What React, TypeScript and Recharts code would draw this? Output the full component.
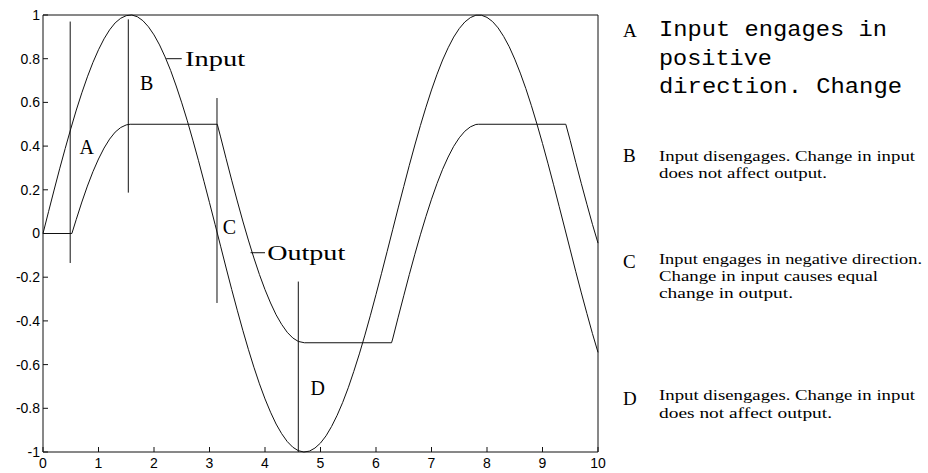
import React from 'react';
import { LineChart, Line, XAxis, YAxis, ReferenceLine, ReferenceDot } from 'recharts';

const time = [
  0, 0.1, 0.2, 0.3, 0.4, 0.5, 0.6, 0.7, 0.8, 0.9,
  1, 1.1, 1.2, 1.3, 1.4, 1.5, 1.6, 1.7, 1.8, 1.9,
  2, 2.1, 2.2, 2.3, 2.4, 2.5, 2.6, 2.7, 2.8, 2.9,
  3, 3.1, 3.2, 3.3, 3.4, 3.5, 3.6, 3.7, 3.8, 3.9,
  4, 4.1, 4.2, 4.3, 4.4, 4.5, 4.6, 4.7, 4.8, 4.9,
  5, 5.1, 5.2, 5.3, 5.4, 5.5, 5.6, 5.7, 5.8, 5.9,
  6, 6.1, 6.2, 6.3, 6.4, 6.5, 6.6, 6.7, 6.8, 6.9,
  7, 7.1, 7.2, 7.3, 7.4, 7.5, 7.6, 7.7, 7.8, 7.9,
  8, 8.1, 8.2, 8.3, 8.4, 8.5, 8.6, 8.7, 8.8, 8.9,
  9, 9.1, 9.2, 9.3, 9.4, 9.5, 9.6, 9.7, 9.8, 9.9,
  10,
];

const inputValues = [
  0, 0.1, 0.199, 0.296, 0.389, 0.479, 0.565, 0.644, 0.717, 0.783,
  0.841, 0.891, 0.932, 0.964, 0.985, 0.997, 1.0, 0.992, 0.974, 0.946,
  0.909, 0.863, 0.808, 0.746, 0.675, 0.598, 0.516, 0.427, 0.335, 0.239,
  0.141, 0.042, -0.058, -0.158, -0.256, -0.351, -0.443, -0.53, -0.612, -0.688,
  -0.757, -0.818, -0.872, -0.916, -0.952, -0.978, -0.994, -1.0, -0.996, -0.982,
  -0.959, -0.926, -0.883, -0.832, -0.773, -0.706, -0.631, -0.551, -0.465, -0.374,
  -0.279, -0.182, -0.083, 0.017, 0.117, 0.215, 0.312, 0.405, 0.494, 0.578,
  0.657, 0.729, 0.794, 0.85, 0.899, 0.938, 0.968, 0.988, 0.999, 0.999,
  0.989, 0.97, 0.941, 0.902, 0.855, 0.798, 0.734, 0.663, 0.585, 0.501,
  0.412, 0.319, 0.223, 0.124, 0.025, -0.075, -0.175, -0.272, -0.366, -0.458,
  -0.544,
];

const outputTime = [
  0, 0.52, 0.6, 0.7, 0.8, 0.9, 1.0, 1.1, 1.2, 1.3, 1.4, 1.5, 1.57,
  3.14, 3.2, 3.3, 3.4, 3.5, 3.6, 3.7, 3.8, 3.9, 4.0, 4.1, 4.2, 4.3, 4.4, 4.5, 4.6, 4.71,
  6.28, 6.3, 6.4, 6.5, 6.6, 6.7, 6.8, 6.9, 7.0, 7.1, 7.2, 7.3, 7.4, 7.5, 7.6, 7.7, 7.8, 7.85,
  9.42, 9.5, 9.6, 9.7, 9.8, 9.9, 10.0,
];

const outputValues = [
  0, 0, 0.065, 0.144, 0.217, 0.283, 0.341, 0.391, 0.432, 0.464, 0.485, 0.497, 0.5,
  0.5, 0.442, 0.342, 0.244, 0.149, 0.057, -0.03, -0.112, -0.188, -0.257, -0.318, -0.372, -0.416, -0.452, -0.478, -0.494, -0.5,
  -0.5, -0.483, -0.383, -0.285, -0.188, -0.095, -0.006, 0.078, 0.157, 0.229, 0.294, 0.35, 0.399, 0.438, 0.468, 0.488, 0.499, 0.5,
  0.5, 0.425, 0.325, 0.228, 0.134, 0.042, -0.044,
];

const xTicks = [0, 1, 2, 3, 4, 5, 6, 7, 8, 9, 10];
const yTicks = [-1, -0.8, -0.6, -0.4, -0.2, 0, 0.2, 0.4, 0.6, 0.8, 1];

// annotation markers: x, top y, bottom y
const markerX = [0.49, 1.537, 3.135, 4.6];
const markerTop = [0.97, 0.98, 0.62, -0.22];
const markerBottom = [-0.135, 0.187, -0.318, -1];

const letterLabels = ['A', 'B', 'C', 'D'];
const letterX = [0.79, 1.87, 3.36, 4.95];
const letterY = [0.396, 0.69, 0.03, -0.707];

const curveNames = ['Input', 'Output'];
const leaderStart = [{ x: 2.22, y: 0.8 }, { x: 3.74, y: -0.088 }];
const leaderEnd = [{ x: 2.5, y: 0.8 }, { x: 4.0, y: -0.088 }];
const curveNameX = [2.56, 4.04];
const curveNameWidth = [60, 78];

const noteLetters = ['A', 'B', 'C', 'D'];
const noteLines = [
  ['Input engages in', 'positive', 'direction. Change'],
  ['Input disengages. Change in input', 'does not affect output.'],
  ['Input engages in negative direction.', 'Change in input causes equal', 'change in output.'],
  ['Input disengages. Change in input', 'does not affect output.'],
];

const inputData = time.map((t, i) => ({ t, v: inputValues[i] }));
const outputData = outputTime.map((t, i) => ({ t, v: outputValues[i] }));

const INK = '#111';
const tickFont = { fontFamily: 'Liberation Sans, Arial, sans-serif', fontSize: 14, fill: '#000' };

const makeText = (txt: string, anchor: string, len?: number) => (props: any) => (
  <text
    x={props.cx}
    y={props.cy}
    textAnchor={anchor}
    dominantBaseline="central"
    fontFamily="Liberation Serif, serif"
    fontSize={20}
    fill="#000"
    {...(len ? { textLength: len, lengthAdjust: 'spacingAndGlyphs' } : {})}
  >
    {txt}
  </text>
);

// Note block layout (page pixels)
const noteBlocks = [
  { letterY: 37, lineY: [36, 65, 93], lens: [228, 113, 243], mono: true },
  { letterY: 162, lineY: [161, 178], lens: [256, 168], mono: false },
  { letterY: 268, lineY: [264, 281, 298], lens: [263, 219, 134], mono: false },
  { letterY: 405, lineY: [400, 418], lens: [256, 173], mono: false },
];

export default function App() {
  return (
    <div style={{ position: 'absolute', left: 0, top: 0, width: 928, height: 473, background: '#fff' }}>
      <LineChart width={928} height={473} margin={{ top: 14, right: 329, bottom: 0, left: 8 }}>
        <XAxis
          dataKey="t"
          type="number"
          domain={[0, 10]}
          ticks={xTicks}
          height={21}
          tickSize={-5}
          tickMargin={11}
          stroke={INK}
          tick={tickFont}
          allowDuplicatedCategory={false}
        />
        <XAxis
          xAxisId="top"
          orientation="top"
          type="number"
          domain={[0, 10]}
          ticks={xTicks}
          height={1}
          tickSize={-5}
          tick={false}
          stroke={INK}
        />
        <YAxis
          type="number"
          domain={[-1, 1]}
          ticks={yTicks}
          width={35}
          tickSize={-5}
          tickMargin={8}
          stroke={INK}
          tick={tickFont}
        />
        <YAxis
          yAxisId="right"
          orientation="right"
          type="number"
          domain={[-1, 1]}
          ticks={yTicks}
          width={1}
          tickSize={-5}
          tick={false}
          stroke={INK}
        />
        <Line data={inputData} dataKey="v" stroke={INK} strokeWidth={1} dot={false} isAnimationActive={false} type="linear" />
        <Line data={outputData} dataKey="v" stroke={INK} strokeWidth={1} dot={false} isAnimationActive={false} type="linear" />
        {markerX.map((x, i) => (
          <ReferenceLine
            key={'m' + i}
            segment={[{ x, y: markerTop[i] }, { x, y: markerBottom[i] }]}
            stroke={INK}
            strokeWidth={1}
            ifOverflow="visible"
          />
        ))}
        {curveNames.map((n, i) => (
          <ReferenceLine
            key={'l' + i}
            segment={[leaderStart[i], leaderEnd[i]]}
            stroke={INK}
            strokeWidth={1}
            ifOverflow="visible"
          />
        ))}
        {letterLabels.map((l, i) => (
          <ReferenceDot key={'d' + i} x={letterX[i]} y={letterY[i]} r={0} ifOverflow="visible" shape={makeText(l, 'middle')} />
        ))}
        {curveNames.map((n, i) => (
          <ReferenceDot
            key={'n' + i}
            x={curveNameX[i]}
            y={leaderEnd[i].y}
            r={0}
            ifOverflow="visible"
            shape={makeText(n, 'start', curveNameWidth[i])}
          />
        ))}
      </LineChart>
      <svg width={928} height={473} style={{ position: 'absolute', left: 0, top: 0, pointerEvents: 'none' }}>
        {noteBlocks.map((b, i) => (
          <g key={i}>
            <text x={623} y={b.letterY} fontFamily="Liberation Serif, serif" fontSize={19} fill="#000">
              {noteLetters[i]}
            </text>
            {noteLines[i].map((ln, j) => (
              <text
                key={j}
                x={659}
                y={b.lineY[j]}
                fontFamily={b.mono ? 'Liberation Mono, monospace' : 'Liberation Serif, serif'}
                fontSize={b.mono ? 22 : 15}
                fill="#000"
                textLength={b.lens[j]}
                lengthAdjust="spacingAndGlyphs"
              >
                {ln}
              </text>
            ))}
          </g>
        ))}
      </svg>
    </div>
  );
}
